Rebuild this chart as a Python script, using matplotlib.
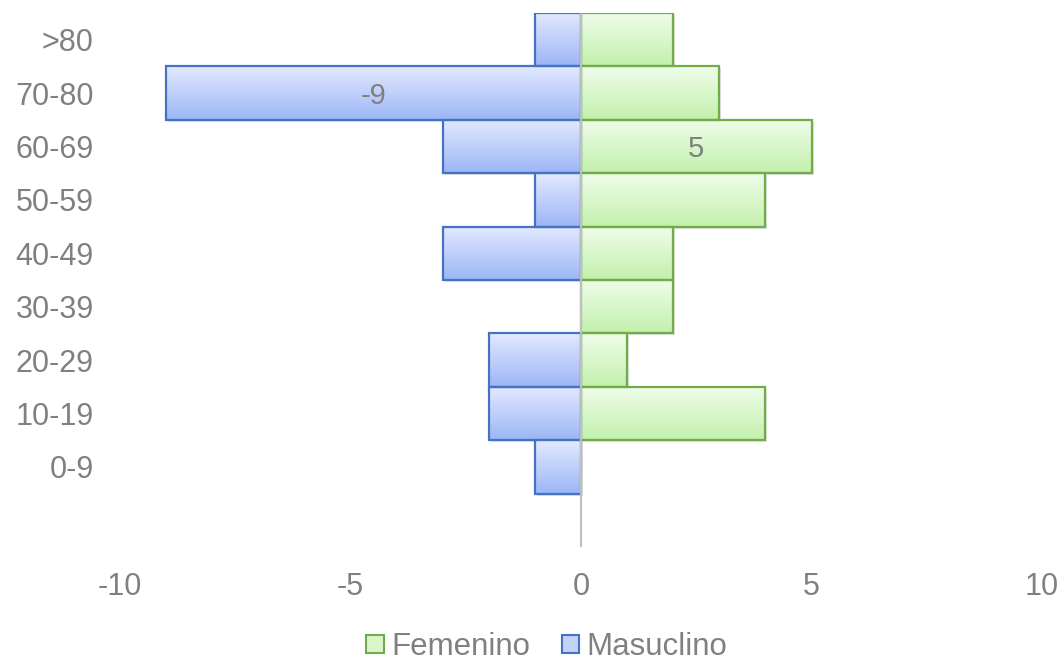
import matplotlib
matplotlib.use("Agg")
import matplotlib.pyplot as plt
import numpy as np
from matplotlib.patches import Patch
from matplotlib.colors import LinearSegmentedColormap
import matplotlib.transforms as mtransforms

plt.rcParams['font.family'] = ['Liberation Sans', 'DejaVu Sans']

categories = ["0-9", "10-19", "20-29", "30-39", "40-49", "50-59", "60-69", "70-80", ">80"]
femenino = [0, 4, 1, 2, 2, 4, 5, 3, 2]
masculino = [-1, -2, -2, 0, -3, -1, -3, -9, -1]
xticks = [-10, -5, 0, 5, 10]

fig = plt.figure(figsize=(10.62, 6.6), dpi=100)
ax = fig.add_axes([120/1062, 1-547/660, (1042-120)/1062, (547-13)/660])
ax.set_xlim(-10, 10)
ax.set_ylim(-1.5, len(categories) - 0.5)

green_cmap = LinearSegmentedColormap.from_list("g", ["#c3f0ad", "#effdea"])
blue_cmap = LinearSegmentedColormap.from_list("b", ["#9cb5f6", "#e3eaff"])
grad = np.linspace(0, 1, 100).reshape(-1, 1)

y = np.arange(len(categories))

def draw(vals, edge, cmap, label):
    bars = ax.barh(y, vals, height=1.0, facecolor='none', edgecolor=edge,
                   linewidth=1.6, zorder=3, label=label)
    for b, v in zip(bars, vals):
        if v == 0:
            b.set_linewidth(0)
            continue
        x0, y0, w, h = b.get_x(), b.get_y(), b.get_width(), b.get_height()
        off = mtransforms.offset_copy(ax.transData, fig=fig, x=2, y=-2, units='dots')
        sh = plt.Rectangle((x0, y0), w, h, transform=off, facecolor='#000000',
                           alpha=0.12, edgecolor='none', zorder=1)
        ax.add_patch(sh)
        im = ax.imshow(grad, extent=[min(x0, x0 + w), max(x0, x0 + w), y0, y0 + h],
                       origin='lower', cmap=cmap, aspect='auto', zorder=2,
                       interpolation='bicubic')
        im.set_clip_path(b)
    return bars

fb = draw(femenino, '#70ad47', green_cmap, 'Femenino')
mb = draw(masculino, '#4472c4', blue_cmap, 'Masuclino')
ax.set_xlim(-10, 10)
ax.set_ylim(-1.5, len(categories) - 0.5)

ax.axvline(0, color='#bfbfbf', linewidth=1.5, zorder=4)

imax = int(np.argmax(femenino))
ax.annotate(str(femenino[imax]), (femenino[imax] / 2, imax), xytext=(0, -2),
            textcoords='offset points', ha='center', va='center',
            fontsize=21, color='#7f7f7f', zorder=5)
imin = int(np.argmin(masculino))
ax.annotate(str(masculino[imin]), (masculino[imin] / 2, imin), xytext=(0, -2),
            textcoords='offset points', ha='center', va='center',
            fontsize=21, color='#7f7f7f', zorder=5)

ax.set_yticks(y)
ax.set_yticklabels(categories)
ax.set_xticks(xticks)
ax.set_xticklabels([str(t) for t in xticks])
ax.tick_params(axis='both', length=0, labelsize=22, colors='#808080')
ax.tick_params(axis='x', pad=18)
ax.tick_params(axis='y', pad=19)
for s in ax.spines.values():
    s.set_visible(False)

handles = [Patch(facecolor='#d8f7c8', edgecolor='#70ad47', linewidth=1.5, label='Femenino'),
           Patch(facecolor='#c3d2fb', edgecolor='#4472c4', linewidth=1.5, label='Masuclino')]
leg = fig.legend(handles=handles, loc='center', bbox_to_anchor=(547/1062, 1-647/660),
                 ncol=2, frameon=False, fontsize=22.5, handlelength=0.55, handleheight=0.55,
                 handletextpad=0.25, columnspacing=1.0)
for t in leg.get_texts():
    t.set_color('#808080')

fig.savefig("out.png", dpi=100)
